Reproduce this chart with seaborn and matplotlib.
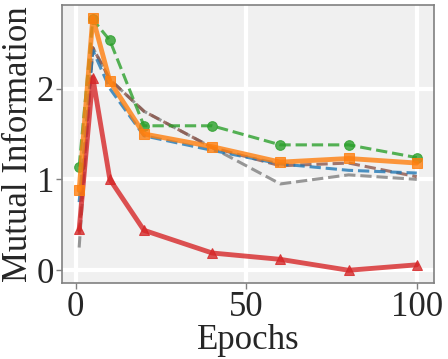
import numpy as np
import pandas as pd
import matplotlib
matplotlib.use("Agg")
import matplotlib.pyplot as plt
import seaborn as sns

# Data
epochs = [1, 5, 10, 20, 40, 60, 80, 100]
mi_green = [1.14, 2.76, 2.53, 1.59, 1.59, 1.38, 1.38, 1.24]
mi_orange = [0.88, 2.78, 2.08, 1.50, 1.36, 1.19, 1.23, 1.18]
mi_blue = [0.75, 2.42, 2.00, 1.48, 1.32, 1.17, 1.10, 1.07]
mi_gray = [0.25, 2.45, 2.10, 1.75, 1.35, 0.95, 1.05, 1.00]
mi_brown = [0.40, 2.45, 2.10, 1.75, 1.35, 1.15, 1.18, 1.03]
mi_red = [0.45, 2.12, 1.00, 0.44, 0.19, 0.12, 0.00, 0.06]

sns.set_theme(style="darkgrid", rc={
    "axes.facecolor": "#f0f0f0",
    "grid.color": "white",
    "grid.linewidth": 3,
    "axes.edgecolor": "#808080",
    "axes.linewidth": 1.2,
})
plt.rcParams['font.family'] = ['Liberation Serif', 'DejaVu Serif']

pal = sns.color_palette("tab10")

fig, ax = plt.subplots(figsize=(4.48, 3.59), dpi=100)

series = [
    (mi_gray, pal[7], "--", None, 2.2, 0),
    (mi_brown, pal[5], "--", None, 2.2, 0),
    (mi_blue, pal[0], "--", None, 2.2, 0),
    (mi_green, pal[2], "--", "o", 2.2, 7),
    (mi_red, pal[3], "-", "^", 3.5, 7),
    (mi_orange, pal[1], "-", "s", 3.5, 7),
]
for vals, col, ls, mk, lw, ms in series:
    sns.lineplot(x=epochs, y=vals, ax=ax, color=col, linestyle=ls,
                 marker=mk, markersize=ms, linewidth=lw, alpha=0.8,
                 markeredgecolor=col)

ax.set_xlabel("Epochs", fontsize=25, labelpad=0)
ax.set_ylabel("Mutual Information", fontsize=25, labelpad=1)
ax.tick_params(axis="both", labelsize=25, length=4, width=1,
               color="#808080", pad=2, bottom=True, left=True)
ax.set_xticks([0, 50, 100])
ax.set_yticks([0, 1, 2])
for s in ax.spines.values():
    s.set_visible(True)

fig.subplots_adjust(left=0.139, right=0.968, top=0.986, bottom=0.212)
fig.savefig("out.png", dpi=100)
